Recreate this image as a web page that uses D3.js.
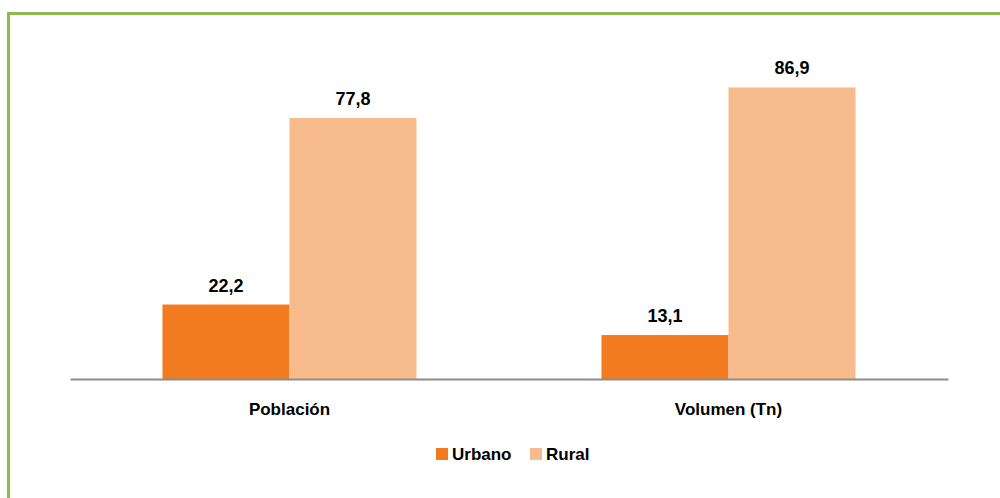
<!DOCTYPE html>
<html>
<head>
<meta charset="utf-8" />
<title>Urbano / Rural</title>
<script src="https://d3js.org/d3.v7.min.js"></script>
<style>
  body { margin: 0; padding: 0; background: #fff; }
  text { font-family: "Liberation Sans Narrow", "Arial Narrow", "Liberation Sans", sans-serif; font-weight: bold; fill: #000; }
</style>
</head>
<body>
<div id="chart"></div>
<script>
const categories = ['Población', 'Volumen (Tn)']
const seriesNames = ['Urbano', 'Rural']
const urbano = [22.2, 13.1]
const rural = [77.8, 86.9]
const colors = ['#f27b20', '#f8bb8b']

const W = 1000, H = 498
const svg = d3.select('#chart').append('svg')
  .attr('width', W).attr('height', H)

// green frame (top and left visible)
svg.append('rect')
  .attr('x', 8.5).attr('y', 13.5)
  .attr('width', W + 20).attr('height', H + 20)
  .attr('fill', 'none').attr('stroke', '#8cb84c').attr('stroke-width', 3)

const margin = {left: 70, right: 52, top: 43.5, baseline: 379}
const x0 = d3.scaleBand().domain(categories)
  .range([margin.left, W - margin.right]).paddingInner(0).paddingOuter(0)
const x1 = d3.scaleBand().domain(seriesNames)
  .range([0, 254]).padding(0)
const y = d3.scaleLinear().domain([0, 100]).range([margin.baseline, margin.top])

const data = categories.map((c, i) => ({cat: c, vals: [urbano[i], rural[i]]}))

const g = svg.selectAll('g.grp').data(data).enter().append('g')
  .attr('transform', d => 'translate(' + (x0(d.cat) + (x0.bandwidth() - 254) / 2) + ',0)')

g.selectAll('rect').data(d => d.vals.map((v, j) => ({name: seriesNames[j], v: v, j: j})))
  .enter().append('rect')
  .attr('x', d => x1(d.name))
  .attr('y', d => y(d.v))
  .attr('width', x1.bandwidth())
  .attr('height', d => y(0) - y(d.v))
  .attr('fill', d => colors[d.j])

g.selectAll('text.lbl').data(d => d.vals.map((v, j) => ({name: seriesNames[j], v: v})))
  .enter().append('text')
  .attr('class', 'lbl')
  .attr('x', d => x1(d.name) + x1.bandwidth() / 2)
  .attr('y', d => y(d.v) - 13)
  .attr('text-anchor', 'middle')
  .style('font-size', '18px')
  .text(d => d3.format('.1f')(d.v).replace('.', ','))

// x axis
const axis = svg.append('g').attr('transform', 'translate(0,' + margin.baseline + ')')
  .call(d3.axisBottom(x0).tickSize(0).tickPadding(24))
axis.select('.domain').attr('stroke', '#8c8c8c').attr('stroke-width', 2)
axis.selectAll('text').style('font-size', '17px').attr('font-family', null)

// legend
const leg = svg.append('g').attr('transform', 'translate(436,448)')
const legX = [0, 94]
seriesNames.forEach((s, i) => {
  leg.append('rect').attr('x', legX[i]).attr('y', 0).attr('width', 12).attr('height', 12).attr('fill', colors[i])
  leg.append('text').attr('x', legX[i] + 16).attr('y', 12).style('font-size', '17px').text(s)
})
</script>
</body>
</html>
